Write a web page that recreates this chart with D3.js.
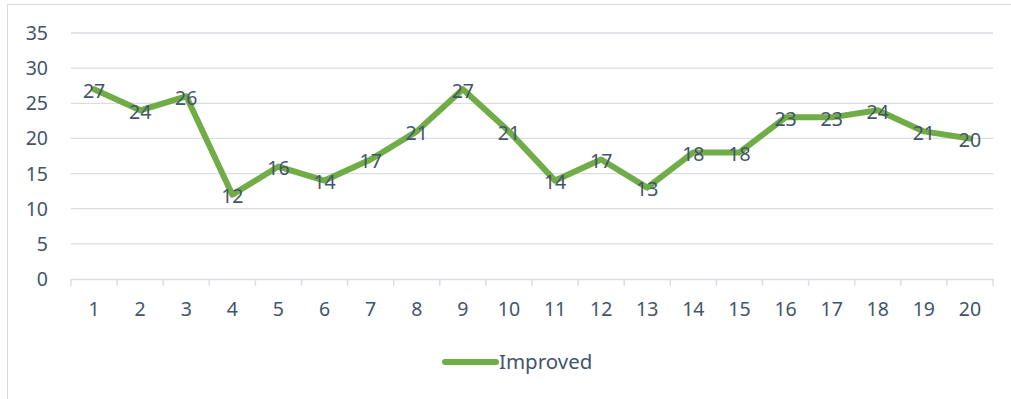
<!DOCTYPE html>
<html><head><meta charset="utf-8">
<script src="https://cdn.jsdelivr.net/npm/d3@7"></script>
<style>body{margin:0;background:#fff;}svg{display:block;font-family:"Noto Sans","Open Sans",sans-serif;}</style>
</head><body>
<svg id="c" width="1011" height="399"></svg>
<script>
const categories = ["1","2","3","4","5","6","7","8","9","10","11","12","13","14","15","16","17","18","19","20"];
const improved = [27,24,26,12,16,14,17,21,27,21,14,17,13,18,18,23,23,24,21,20];
const yTicks = [0,5,10,15,20,25,30,35];
const seriesName = "Improved";

const svg = d3.select("#c");
const textColor = "#44546a", gridColor = "#d9dde4", lineColor = "#70ad47";
const fs = 19.5;

svg.append("rect").attr("x",7.5).attr("y",4.5).attr("width",1010).attr("height",400)
  .attr("fill","none").attr("stroke","#d9d9d9");

const x = d3.scaleBand().domain(categories).range([71,993]);
const y = d3.scaleLinear().domain([0,35]).range([279,33]);

svg.append("g").selectAll("line").data(yTicks.filter(d=>d>0)).join("line")
  .attr("x1",71).attr("x2",993).attr("y1",d=>y(d)).attr("y2",d=>y(d))
  .attr("stroke",gridColor).attr("stroke-width",1.3);

svg.append("g").selectAll("text").data(yTicks).join("text")
  .attr("x",48).attr("y",d=>y(d)).attr("text-anchor","end").attr("dy","0.36em")
  .attr("fill",textColor).attr("font-size",fs).text(d=>d);

const xa = svg.append("g").attr("transform","translate(0,279)")
  .call(d3.axisBottom(x).tickSize(0).tickPadding(23));
xa.select(".domain").attr("stroke",gridColor).attr("stroke-width",1.5);
xa.selectAll("text").attr("fill",textColor).attr("font-size",fs).attr("font-family","Noto Sans");
const bounds = categories.map(c=>x(c)).concat([993]);
svg.append("g").selectAll("line").data(bounds).join("line")
  .attr("x1",d=>d).attr("x2",d=>d).attr("y1",279).attr("y2",286)
  .attr("stroke",gridColor).attr("stroke-width",1.5);

const line = d3.line().x((d,i)=>x(categories[i])+x.bandwidth()/2).y(d=>y(d));
svg.append("path").datum(improved).attr("d",line).attr("fill","none")
  .attr("stroke",lineColor).attr("stroke-width",6).attr("stroke-linejoin","round").attr("stroke-linecap","round");

svg.append("g").selectAll("text").data(improved).join("text")
  .attr("x",(d,i)=>x(categories[i])+x.bandwidth()/2).attr("y",d=>y(d)).attr("dy","0.45em")
  .attr("text-anchor","middle").attr("fill",textColor).attr("font-size",fs).text(d=>d);

svg.append("line").attr("x1",445).attr("x2",496).attr("y1",362).attr("y2",362)
  .attr("stroke",lineColor).attr("stroke-width",6).attr("stroke-linecap","round");
svg.append("text").attr("x",499).attr("y",362).attr("dy","0.36em").attr("fill",textColor)
  .attr("font-size",20.5).text(seriesName);
</script>
</body></html>
